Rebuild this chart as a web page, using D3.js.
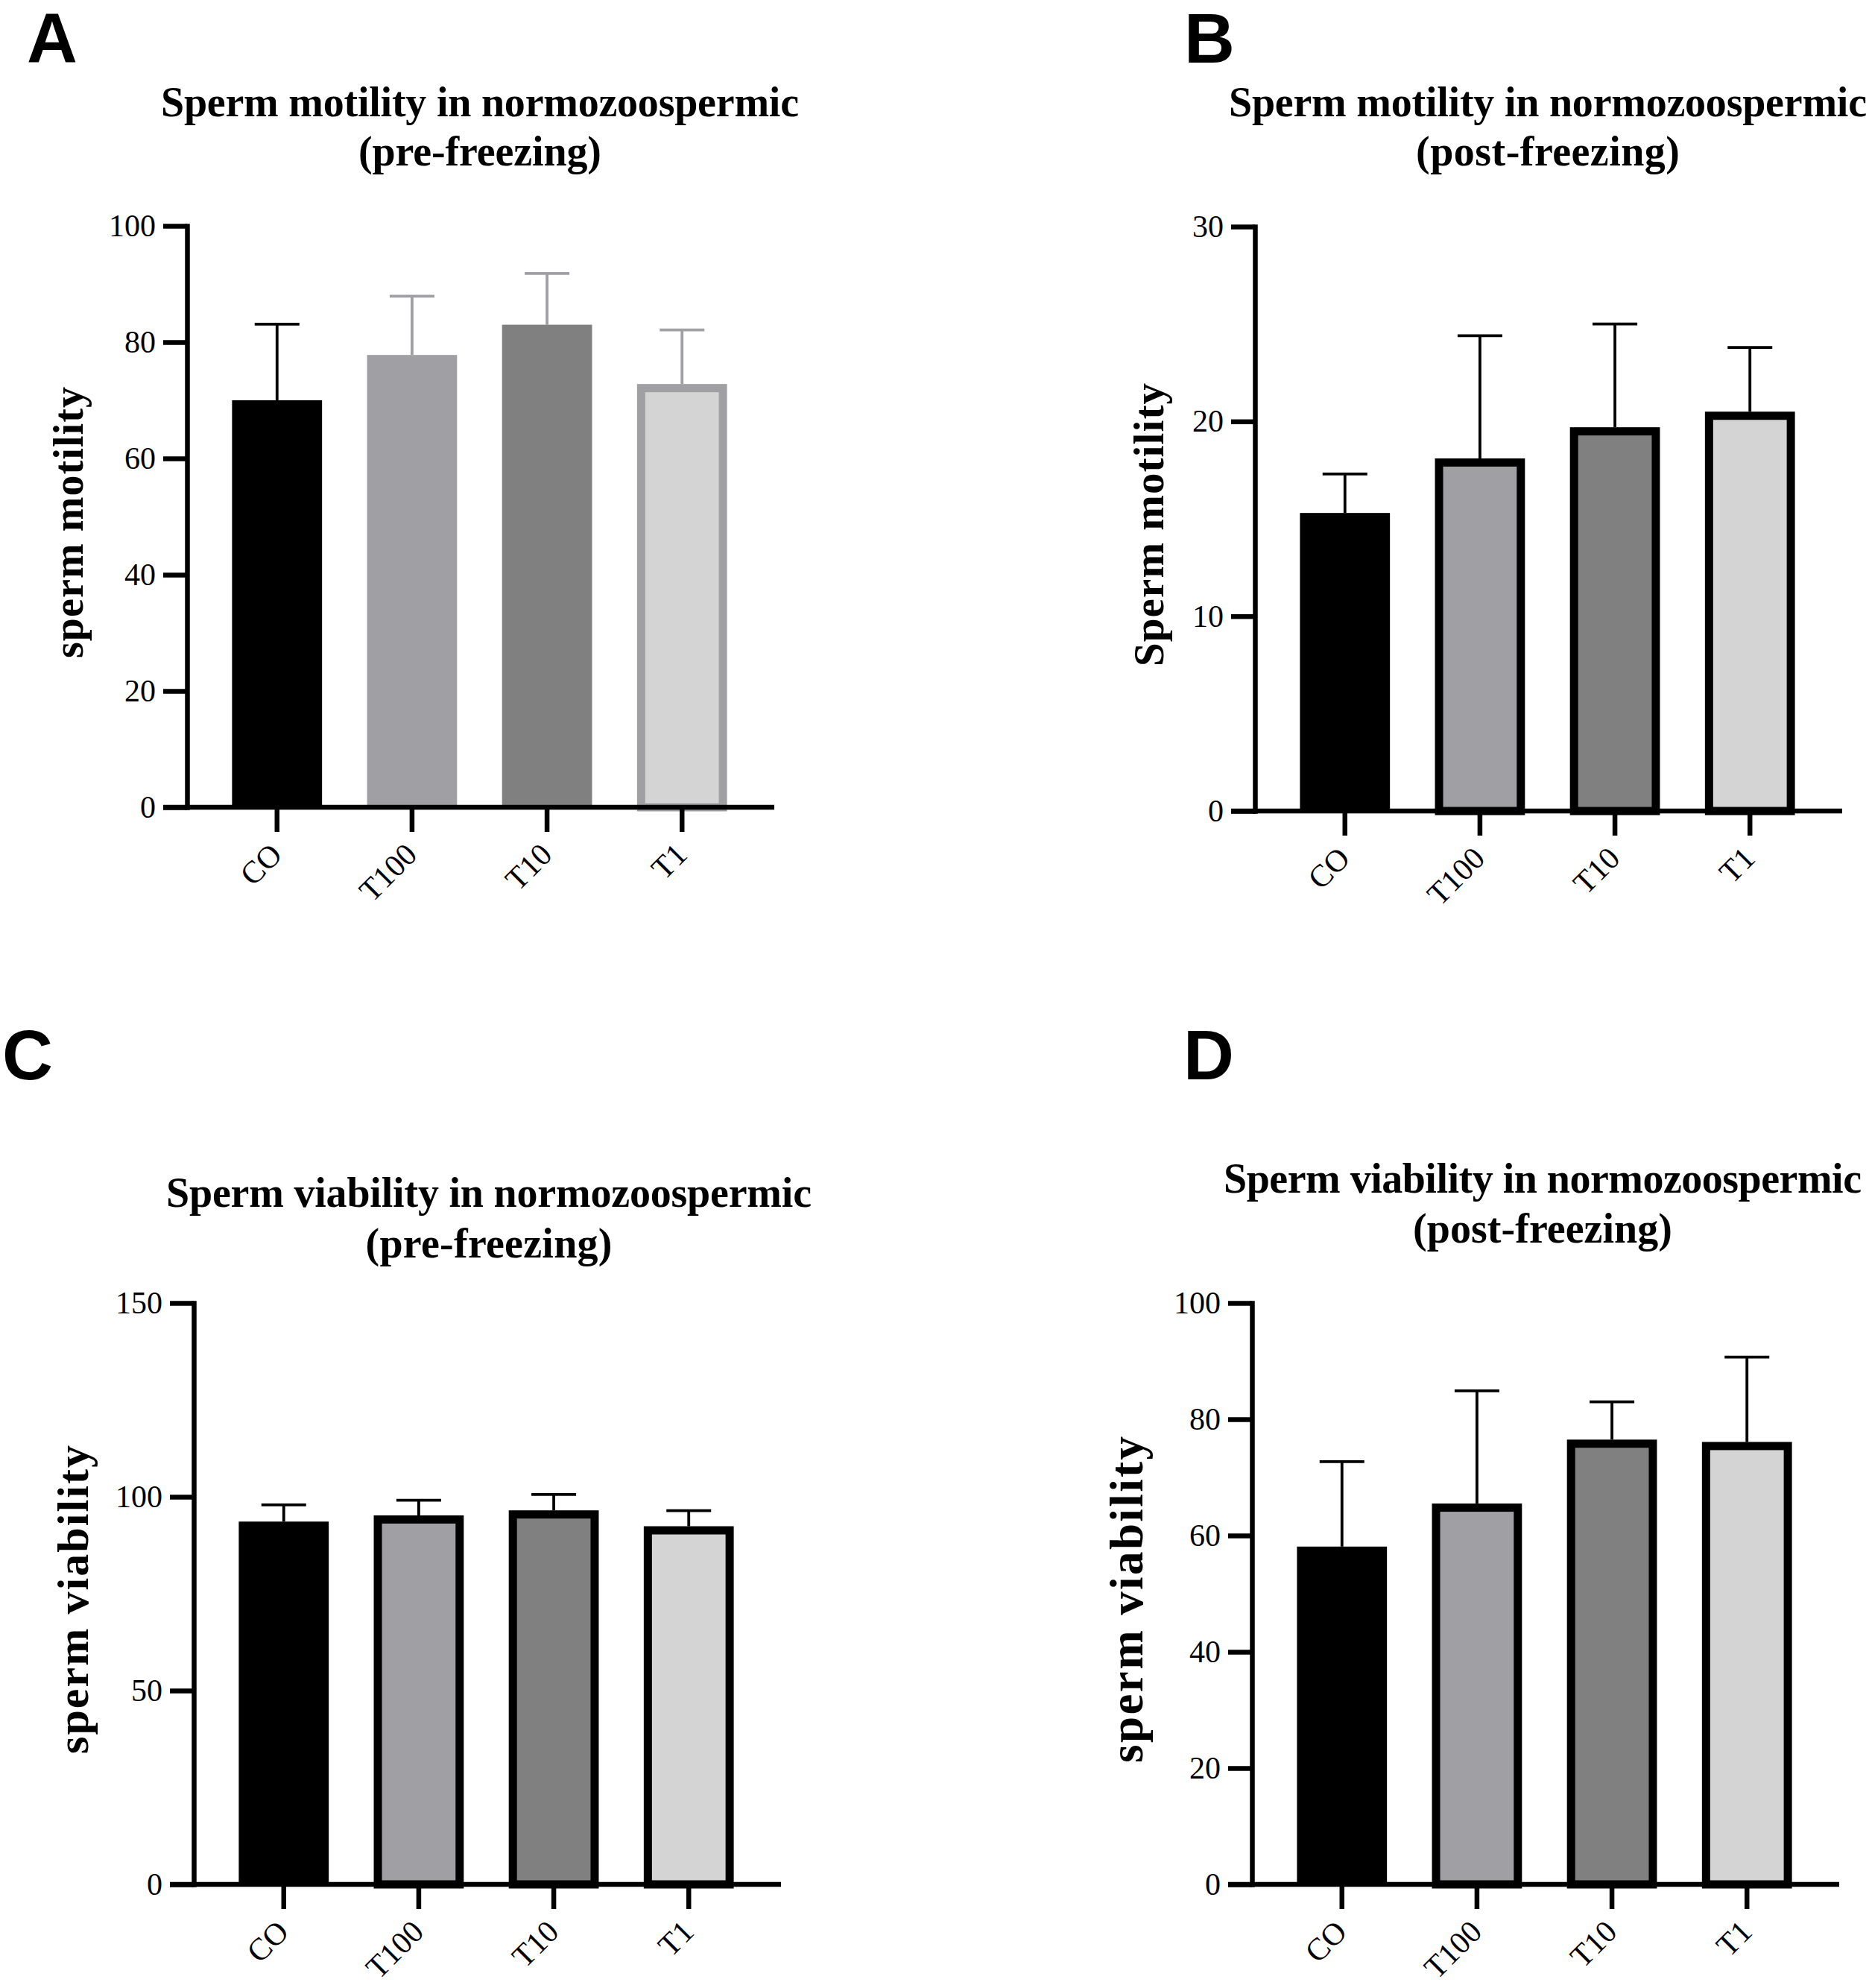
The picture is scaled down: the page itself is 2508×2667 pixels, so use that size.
<!DOCTYPE html>
<html>
<head>
<meta charset="utf-8">
<script src="https://cdn.jsdelivr.net/npm/d3@7"></script>
<style>
  body { margin: 0; background: #fff; }
  svg { display: block; }
</style>
</head>
<body>
<div id="chart"></div>
<script>
const groups = ['CO', 'T100', 'T10', 'T1'];

const motilityPreMean = [70.0, 77.8, 83.0, 72.8];
const motilityPreSD = [13.1, 10.1, 8.8, 9.3];
const motilityPostMean = [15.3, 18.1, 19.7, 20.5];
const motilityPostSD = [2.0, 6.3, 5.3, 3.3];
const viabilityPreMean = [93.6, 95.2, 96.5, 92.4];
const viabilityPreSD = [4.3, 3.9, 4.1, 4.0];
const viabilityPostMean = [58.1, 65.5, 76.5, 76.1];
const viabilityPostSD = [14.6, 19.4, 6.5, 14.6];

const ticksMotilityPre = [0, 20, 40, 60, 80, 100];
const ticksMotilityPost = [0, 10, 20, 30];
const ticksViabilityPre = [0, 50, 100, 150];
const ticksViabilityPost = [0, 20, 40, 60, 80, 100];

const fills = ['#000000', '#a0a0a4', '#808080', '#d4d4d4'];
const SERIF = "'Liberation Serif', 'Times New Roman', serif";
const SANS = "'Liberation Sans', Arial, sans-serif";

const W = 2508, H = 2667;
const plotW = 785;

const panels = [
  {
    letter: 'A', lx: 36, ly: 84,
    ox: 251, oy: 303, ph: 780,
    mean: motilityPreMean, sd: motilityPreSD, ticks: ticksMotilityPre,
    title: ['Sperm motility in normozoospermic', '(pre-freezing)'],
    tcx: 644, tby: [156, 222], tlen: [856, 326],
    ylab: 'sperm motility', ylx: 140, ylen: 364, ylfs: 56,
    border: [null, null, null, '#a0a0a4'],
    err: ['#000', '#a0a0a4', '#a0a0a4', '#a0a0a4']
  },
  {
    letter: 'B', lx: 1589, ly: 84,
    ox: 1684, oy: 304, ph: 784,
    mean: motilityPostMean, sd: motilityPostSD, ticks: ticksMotilityPost,
    title: ['Sperm motility in normozoospermic', '(post-freezing)'],
    tcx: 2077, tby: [156, 222], tlen: [856, 354],
    ylab: 'Sperm motility', ylx: 123, ylen: 380, ylfs: 57,
    border: [null, '#000', '#000', '#000'],
    err: ['#000', '#000', '#000', '#000']
  },
  {
    letter: 'C', lx: 3, ly: 1448,
    ox: 260, oy: 1748, ph: 780,
    mean: viabilityPreMean, sd: viabilityPreSD, ticks: ticksViabilityPre,
    title: ['Sperm viability in normozoospermic', '(pre-freezing)'],
    tcx: 656, tby: [1619, 1687], tlen: [866, 331],
    ylab: 'sperm viability', ylx: 142, ylen: 414, ylfs: 60,
    border: [null, '#000', '#000', '#000'],
    err: ['#000', '#000', '#000', '#000']
  },
  {
    letter: 'D', lx: 1588, ly: 1448,
    ox: 1680, oy: 1748, ph: 780,
    mean: viabilityPostMean, sd: viabilityPostSD, ticks: ticksViabilityPost,
    title: ['Sperm viability in normozoospermic', '(post-freezing)'],
    tcx: 2070, tby: [1600, 1667], tlen: [856, 348],
    ylab: 'sperm viability', ylx: 147, ylen: 438, ylfs: 63,
    border: [null, '#000', '#000', '#000'],
    err: ['#000', '#000', '#000', '#000']
  }
];

const svg = d3.select('#chart')
  .append('svg')
  .attr('width', W)
  .attr('height', H)
  .attr('viewBox', `0 0 ${W} ${H}`);

svg.append('rect').attr('width', W).attr('height', H).attr('fill', '#fff');

panels.forEach((p) => {
  // panel letter
  svg.append('text')
    .attr('x', p.lx)
    .attr('y', p.ly)
    .style('font-family', SANS)
    .style('font-weight', 700)
    .style('font-size', '94px')
    .text(p.letter);

  // title, two lines
  p.title.forEach((t, i) => {
    svg.append('text')
      .attr('x', p.tcx)
      .attr('y', p.tby[i])
      .attr('text-anchor', 'middle')
      .attr('textLength', p.tlen[i])
      .attr('lengthAdjust', 'spacing')
      .style('font-family', SERIF)
      .style('font-weight', 700)
      .style('font-size', '56px')
      .text(t);
  });

  const plotH = p.ph;
  const g = svg.append('g').attr('transform', `translate(${p.ox},${p.oy})`);

  const x = d3.scaleBand().domain(groups).range([0, plotW]).padding(1 / 3);
  const y = d3.scaleLinear()
    .domain([0, d3.max(p.ticks)])
    .range([plotH, 0]);

  const rows = groups.map((k, i) => ({
    key: k, mean: p.mean[i], sd: p.sd[i],
    fill: fills[i], border: p.border[i], err: p.err[i]
  }));

  const sw = 11;

  // error bars (drawn first so bars cover the lower part)
  const eb = g.append('g');
  eb.selectAll('.stem')
    .data(rows)
    .join('line')
    .attr('x1', (d) => x(d.key) + x.bandwidth() / 2)
    .attr('x2', (d) => x(d.key) + x.bandwidth() / 2)
    .attr('y1', (d) => y(d.mean))
    .attr('y2', (d) => y(d.mean + d.sd))
    .attr('stroke', (d) => d.err)
    .attr('stroke-width', 3.8);
  eb.selectAll('.cap')
    .data(rows)
    .join('line')
    .attr('x1', (d) => x(d.key) + x.bandwidth() / 2 - 30)
    .attr('x2', (d) => x(d.key) + x.bandwidth() / 2 + 30)
    .attr('y1', (d) => y(d.mean + d.sd))
    .attr('y2', (d) => y(d.mean + d.sd))
    .attr('stroke', (d) => d.err)
    .attr('stroke-width', 3.8);

  // bars, border drawn inside the bar outline
  g.append('g')
    .selectAll('rect')
    .data(rows)
    .join('rect')
    .attr('x', (d) => x(d.key) + (d.border ? sw / 2 : 0))
    .attr('y', (d) => y(d.mean) + (d.border ? sw / 2 : 0))
    .attr('width', (d) => x.bandwidth() - (d.border ? sw : 0))
    .attr('height', (d) => y(0) - y(d.mean) - (d.border ? sw / 2 : 0))
    .attr('fill', (d) => d.fill)
    .attr('stroke', (d) => d.border || 'none')
    .attr('stroke-width', sw);

  // y axis
  const yAxis = g.append('g')
    .call(d3.axisLeft(y).tickValues(p.ticks).tickSize(32).tickSizeOuter(0).tickPadding(10));
  yAxis.select('.domain')
    .attr('stroke-width', 6.5)
    .attr('stroke-linecap', 'square');
  yAxis.selectAll('.tick line').attr('stroke-width', 6.5);
  yAxis.selectAll('.tick text')
    .style('font-family', SERIF)
    .style('font-size', '42px')
    .attr('fill', '#000');

  // x axis
  const xAxis = g.append('g')
    .attr('transform', `translate(0,${plotH})`)
    .call(d3.axisBottom(x).tickSize(33).tickSizeOuter(0));
  xAxis.select('.domain').remove();
  xAxis.selectAll('.tick line').attr('stroke-width', 6.5);
  xAxis.selectAll('.tick text')
    .attr('y', 0)
    .attr('dy', 0)
    .attr('text-anchor', 'end')
    .attr('transform', 'translate(9,66) rotate(-45)')
    .style('font-family', SERIF)
    .style('font-size', '42px')
    .attr('fill', '#000');
  xAxis.append('line')
    .attr('x1', -32)
    .attr('x2', plotW + 3)
    .attr('y1', 0)
    .attr('y2', 0)
    .attr('stroke', '#000')
    .attr('stroke-width', 6.5);

  // y axis title
  g.append('text')
    .attr('transform', `translate(${-p.ylx},${plotH / 2 + 8}) rotate(-90)`)
    .attr('text-anchor', 'middle')
    .attr('textLength', p.ylen)
    .attr('lengthAdjust', 'spacing')
    .style('font-family', SERIF)
    .style('font-weight', 700)
    .style('font-size', p.ylfs + 'px')
    .text(p.ylab);
});
</script>
</body>
</html>
